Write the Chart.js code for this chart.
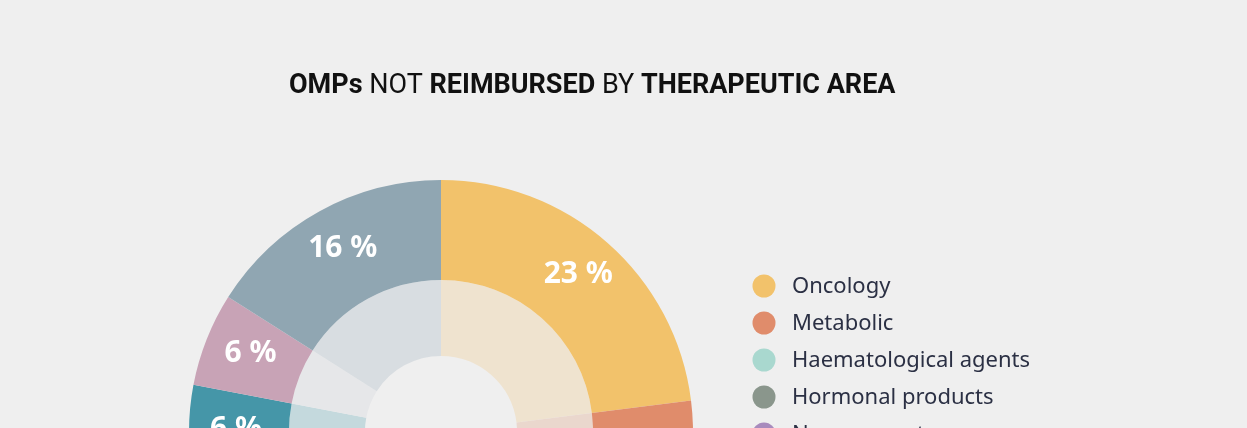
<!DOCTYPE html>
<html>
<head>
<meta charset="utf-8">
<script src="https://cdn.jsdelivr.net/npm/chart.js@4.4.1/dist/chart.umd.min.js"></script>
<style>
  html, body { margin: 0; padding: 0; background: #efefef; overflow: hidden; }
  #wrap { position: relative; width: 1247px; height: 864px; }
</style>
</head>
<body>
<div id="wrap"><canvas id="omps"></canvas></div>
<script>
// therapeutic areas, clockwise from 12 o'clock
const areas = ['Oncology', 'Metabolic', 'Haematological agents', 'Hormonal products',
    'Nervous system', 'Cardiovascular', 'Immunological', 'Dermatological', 'Other'];
const shares = [23, 13, 11, 9, 9, 7, 6, 6, 16];
const areaColors = ['#f2c26b', '#e08c6b', '#a9d8cf', '#8a968c', '#a88bbd',
    '#7f93b8', '#4596a8', '#c8a3b6', '#90a6b2'];
const innerColors = ['#efe3cf', '#ead7cd', '#dbe9e6', '#dddfdd', '#e4dde9',
    '#dde1ea', '#c4d9dd', '#e6e7e9', '#d8dde1'];
const titleParts = [['OMPs', true], [' NOT ', false], ['REIMBURSED', true], [' BY ', false], ['THERAPEUTIC AREA', true]];

// title, percentage labels and legend are drawn straight on the canvas
const decorPlugin = {
    id: 'decor',
    afterDatasetsDraw(chart) {
        const ctx = chart.ctx;
        ctx.save();

        // title with mixed weights
        let x = 289;
        ctx.textBaseline = 'alphabetic';
        ctx.fillStyle = '#111111';
        titleParts.forEach(([txt, bold]) => {
            ctx.font = (bold ? 'bold ' : '') + '27px Roboto';
            ctx.fillText(txt, x, 93);
            x += ctx.measureText(txt).width;
        });

        // percentage labels on the outer ring
        const meta = chart.getDatasetMeta(0);
        ctx.font = 'bold 30px "Noto Sans"';
        ctx.fillStyle = '#ffffff';
        ctx.textAlign = 'center';
        ctx.textBaseline = 'middle';
        meta.data.forEach((arc, i) => {
            const mid = (arc.startAngle + arc.endAngle) / 2;
            const r = 206;
            ctx.fillText(shares[i] + ' %', arc.x + Math.cos(mid) * r + 1, arc.y + Math.sin(mid) * r - 3);
        });

        // legend
        ctx.textAlign = 'left';
        ctx.font = '22px "Noto Sans"';
        areas.forEach((name, i) => {
            const y = 286 + i * 37;
            ctx.fillStyle = areaColors[i];
            ctx.beginPath();
            ctx.arc(764, y, 11.5, 0, Math.PI * 2);
            ctx.fill();
            ctx.fillStyle = '#2b3044';
            ctx.fillText(name, 792, y + 1);
        });
        ctx.restore();
    }
};

const ctx = document.getElementById('omps').getContext('2d');
new Chart(ctx, {
    type: 'doughnut',
    data: {
        labels: areas,
        datasets: [
            { data: shares, backgroundColor: areaColors, borderWidth: 0, weight: 100 },
            { data: shares, backgroundColor: innerColors, borderWidth: 0, weight: 76 }
        ]
    },
    options: {
        responsive: true,
        maintainAspectRatio: false,
        animation: false,
        cutout: '30.2%',
        layout: { padding: { left: 189, right: 554, top: 180, bottom: 180 } },
        plugins: {
            legend: { display: false },
            tooltip: { enabled: false }
        }
    },
    plugins: [decorPlugin]
});
</script>
</body>
</html>
